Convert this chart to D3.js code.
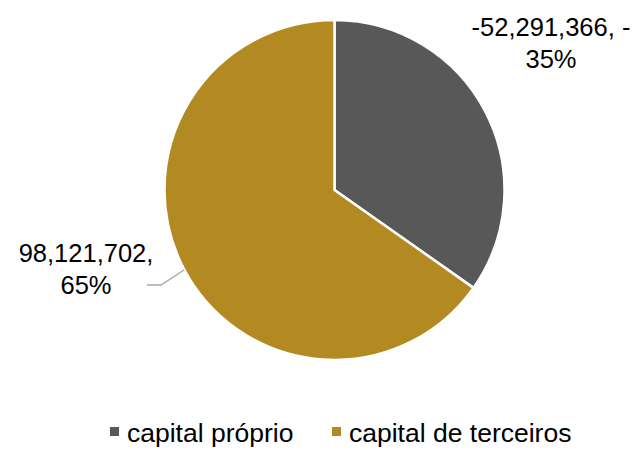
<!DOCTYPE html>
<html>
<head>
<meta charset="utf-8">
<script src="https://cdn.jsdelivr.net/npm/d3@7"></script>
<style>
  body { margin: 0; background: #fff; }
  text { font-family: "Liberation Sans", Arial, sans-serif; fill: #000; }
</style>
</head>
<body>
<svg id="chart" width="639" height="458"></svg>
<script>
// data
var categories = ["capital próprio", "capital de terceiros"];
var values = [52291366, 98121702];
var valueLabels = ["-52,291,366, -", "98,121,702,"];
var pctLabels = ["35%", "65%"];
var colors = ["#585858", "#B38A22"];

var svg = d3.select("#chart"),
    cx = 334.5, cy = 190, radius = 170;

var pie = d3.pie().sort(null).value(function(d) { return d; });
var arc = d3.arc().innerRadius(0).outerRadius(radius);

var g = svg.append("g")
    .attr("transform", "translate(" + cx + "," + cy + ")");

g.selectAll(".slice")
    .data(pie(values))
  .enter().append("path")
    .attr("class", "slice")
    .attr("d", arc)
    .attr("fill", function(d, i) { return colors[i]; })
    .attr("stroke", "#fff")
    .attr("stroke-width", 2.5)
    .attr("stroke-linejoin", "round");

// data labels (positions picked by hand like the original)
var labelPos = [[551, 36], [86, 262]];
var lineGap = 32;

labelPos.forEach(function(p, i) {
  var t = svg.append("text")
      .attr("text-anchor", "middle")
      .style("font-size", "25.5px");
  t.append("tspan").attr("x", p[0]).attr("y", p[1]).text(valueLabels[i]);
  t.append("tspan").attr("x", p[0]).attr("y", p[1] + lineGap).text(pctLabels[i]);
});

// leader line for the big slice
var ang = 242 * Math.PI / 180;
var edge = [cx + radius * Math.sin(ang), cy - radius * Math.cos(ang)];
svg.append("path")
    .attr("d", d3.line()([[147, 285], [161, 285], edge]))
    .attr("fill", "none")
    .attr("stroke", "#a6a6a6")
    .attr("stroke-width", 1.3);

// legend
var legendX = [110, 332];
var legend = svg.selectAll(".legend")
    .data(categories)
  .enter().append("g")
    .attr("class", "legend")
    .attr("transform", function(d, i) { return "translate(" + legendX[i] + ",427)"; });

legend.append("rect")
    .attr("width", 9)
    .attr("height", 9)
    .attr("fill", function(d, i) { return colors[i]; });

legend.append("text")
    .attr("x", 17)
    .attr("y", 15)
    .style("font-size", "26.5px")
    .text(function(d) { return d; });
</script>
</body>
</html>
